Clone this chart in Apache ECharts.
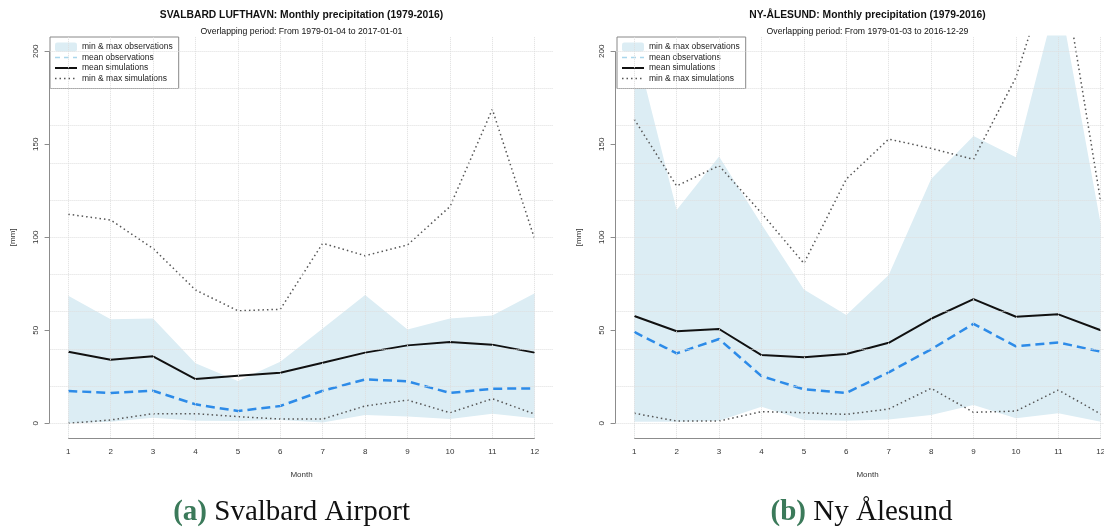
<!DOCTYPE html>
<html>
<head>
<meta charset="utf-8">
<title>Monthly precipitation</title>
<script src="https://cdn.jsdelivr.net/npm/echarts@6/dist/echarts.min.js"></script>
<style>
  html, body { margin: 0; padding: 0; background: #fff; }
  #chart { width: 1104px; height: 530px; }
</style>
</head>
<body>
<div id="chart"></div>
<script>
// months on the x axis, tick labels on the y axis, dotted grid levels
const months = [1, 2, 3, 4, 5, 6, 7, 8, 9, 10, 11, 12];
const yTicks = [0, 50, 100, 150, 200];
const yGrid = [0, 20, 40, 60, 80, 100, 120, 140, 160, 180, 200];

// Svalbard Lufthavn (mm)
const svalObsMin = [0, 0.9, 3, 1.4, 1.2, 1.8, 0.5, 4.5, 3.6, 2.3, 5.2, 2.7];
const svalObsMax = [68.6, 56, 56.4, 32.3, 22.7, 33.1, 51, 69, 50.5, 56.4, 57.9, 69.9];
const svalObsMean = [17.4, 16.3, 17.5, 10.2, 6.6, 9.3, 17.5, 23.6, 22.6, 16.3, 18.6, 18.8];
const svalSimMean = [38.5, 34.2, 36, 23.8, 25.6, 27.2, 32.6, 38, 41.9, 43.7, 42.3, 38];
const svalSimMin = [0, 1.8, 5.2, 5.2, 3.6, 2.3, 2.3, 9.3, 12.5, 5.7, 13.2, 5];
const svalSimMax = [112.4, 109.3, 94, 71.7, 60.5, 61.3, 96.8, 90.1, 95.9, 116.5, 168.8, 98.9];

// Ny-Ålesund (mm)
const nyObsMin = [0.9, 0.9, 1.4, 8.9, 1.8, 1.4, 2.1, 4.5, 9.8, 2.7, 5.4, 0.9];
const nyObsMax = [205, 114.7, 143.4, 107, 72, 58.2, 79.7, 131.3, 154.5, 143, 232, 107];
const nyObsMean = [49.1, 37.6, 45.3, 25.4, 18.3, 16.3, 27.4, 39.8, 53.5, 41.4, 43.5, 38.5];
const nySimMean = [57.7, 49.5, 50.7, 36.7, 35.5, 37.3, 43.3, 56.2, 66.8, 57.3, 58.6, 50];
const nySimMin = [5.4, 1.2, 1.2, 6.3, 5.7, 4.8, 7.7, 18.8, 5.9, 6.6, 17.9, 5];
const nySimMax = [163.4, 127.6, 138.5, 113, 86, 131.3, 152.8, 147.8, 141.9, 186, 258, 119];

const FONT = 'Liberation Sans';
const BAND = '#dcedf4';
const AXIS = '#8c8c8c';
const XMIN = 0.56, XMAX = 12.44, YMIN = -8, YMAX = 208;

function pts(arr) {
    return months.map((m, i) => [m, arr[i]]);
}

// one panel = band + grid + 4 lines
// band: fill under the max in light blue, then paint white under the min
function panelSeries(idx, d) {
    const ax = { xAxisIndex: idx, yAxisIndex: idx };
    const gridLine = { color: '#dedede', type: 'dotted', width: 1 };
    const axisLine = { color: AXIS, type: 'solid', width: 1 };
    return [
        Object.assign({
            name: 'min & max observations', type: 'line', data: pts(d.obsMax),
            symbol: 'none', lineStyle: { opacity: 0 }, areaStyle: { color: BAND, opacity: 1, origin: 'start' },
            silent: true, z: 1
        }, ax),
        Object.assign({
            type: 'line', data: pts(d.obsMin),
            symbol: 'none', lineStyle: { opacity: 0 }, areaStyle: { color: '#fff', opacity: 1, origin: 'start' },
            silent: true, z: 1
        }, ax),
        Object.assign({
            type: 'line', data: pts(d.obsMin), symbol: 'none', lineStyle: { opacity: 0 },
            silent: true, z: 2, clip: false,
            markLine: {
                silent: true, symbol: 'none', label: { show: false }, animation: false,
                lineStyle: gridLine,
                data: yGrid.map(v => ({ yAxis: v })).concat(months.map(m => ({ xAxis: m }))).concat([
                    [{ coord: [XMIN, 0], lineStyle: axisLine }, { coord: [XMIN, 200] }],
                    [{ coord: [1, YMIN], lineStyle: axisLine }, { coord: [12, YMIN] }]
                ])
            }
        }, ax),
        Object.assign({
            name: 'mean observations', type: 'line', data: pts(d.obsMean), symbol: 'none',
            lineStyle: { color: '#2d8be8', width: 2.5, type: [9, 5] }, z: 3
        }, ax),
        Object.assign({
            name: 'min & max simulations', type: 'line', data: pts(d.simMin), symbol: 'none',
            lineStyle: { color: '#555', width: 1.5, type: [1.5, 3] }, z: 3
        }, ax),
        Object.assign({
            name: 'min & max simulations', type: 'line', data: pts(d.simMax), symbol: 'none',
            lineStyle: { color: '#555', width: 1.5, type: [1.5, 3] }, z: 3
        }, ax),
        Object.assign({
            name: 'mean simulations', type: 'line', data: pts(d.simMean), symbol: 'none',
            lineStyle: { color: '#111', width: 2 }, z: 4
        }, ax)
    ];
}

function makeAxes(idx) {
    const x = {
        type: 'value', gridIndex: idx, min: XMIN, max: XMAX,
        splitLine: { show: false }, axisLine: { show: false },
        axisTick: { customValues: months, length: 5, lineStyle: { color: AXIS } },
        axisLabel: { customValues: months, margin: 10, fontSize: 8, color: '#333', fontFamily: FONT },
        name: 'Month', nameLocation: 'middle', nameGap: 33,
        nameTextStyle: { fontSize: 8, color: '#333', fontFamily: FONT }
    };
    const y = {
        type: 'value', gridIndex: idx, min: YMIN, max: YMAX,
        splitLine: { show: false }, axisLine: { show: false },
        axisTick: { customValues: yTicks, length: 5, lineStyle: { color: AXIS } },
        axisLabel: { customValues: yTicks, rotate: 90, margin: 10, fontSize: 8, color: '#333', fontFamily: FONT },
        name: '[mm]', nameLocation: 'middle', nameGap: 33,
        nameTextStyle: { fontSize: 8, color: '#333', fontFamily: FONT }
    };
    return [x, y];
}

function makeLegend(left) {
    const noDot = { opacity: 0 };
    return {
        orient: 'vertical', left: left, top: 37, selectedMode: false,
        backgroundColor: '#fff', borderColor: '#888', borderWidth: 1, borderRadius: 0,
        padding: [5, 6, 5, 4], itemGap: 0.5, itemWidth: 22, itemHeight: 9,
        textStyle: { fontSize: 8.5, color: '#222', fontFamily: FONT, lineHeight: 10 },
        data: [
            { name: 'min & max observations', icon: 'roundRect', itemStyle: { color: BAND } },
            { name: 'mean observations', itemStyle: noDot, lineStyle: { color: '#a9d6ec', width: 1.5, type: [5, 4], opacity: 1 } },
            { name: 'mean simulations', itemStyle: noDot, lineStyle: { color: '#111', width: 2, opacity: 1 } },
            { name: 'min & max simulations', itemStyle: noDot, lineStyle: { color: '#555', width: 1.5, type: [1.5, 3], opacity: 1 } }
        ]
    };
}

function titleItem(text, center, top, size, weight) {
    return {
        text: text, left: center, top: top, textAlign: 'center', padding: 0,
        textStyle: { fontSize: size, fontWeight: weight, color: '#111', fontFamily: FONT }
    };
}
function captionItem(tag, text, center) {
    return {
        text: '{a|' + tag + '} ' + text, left: center, top: 498, textAlign: 'center', padding: 0,
        textStyle: {
            fontSize: 29, fontWeight: 'normal', color: '#111', fontFamily: 'Liberation Serif',
            rich: { a: { fontSize: 29, fontWeight: 'bold', color: '#3b7a5a', fontFamily: 'Liberation Serif' } }
        }
    };
}

const chart = echarts.init(document.getElementById('chart'), null, { renderer: 'canvas' });

const ax0 = makeAxes(0), ax1 = makeAxes(1);
const option = {
    animation: false,
    backgroundColor: '#fff',
    title: [
        titleItem('SVALBARD LUFTHAVN: Monthly precipitation (1979-2016)', 301.5, 10, 10.3, 'bold'),
        titleItem('Overlapping period: From 1979-01-04 to 2017-01-01', 301.5, 27, 8.7, 'normal'),
        titleItem('NY-ÅLESUND: Monthly precipitation (1979-2016)', 867.5, 10, 10.3, 'bold'),
        titleItem('Overlapping period: From 1979-01-03 to 2016-12-29', 867.5, 27, 8.7, 'normal'),
        captionItem('(a)', 'Svalbard Airport', 291.6),
        captionItem('(b)', 'Ny Ålesund', 861.6)
    ],
    legend: [makeLegend(50), makeLegend(617)],
    // the right panel runs past the picture's edge, as in the source figure
    grid: [
        { left: 49.6, top: 36.4, width: 503.8, height: 401.8, outerBoundsMode: 'none' },
        { left: 615.6, top: 36.4, width: 503.8, height: 401.8, outerBoundsMode: 'none' }
    ],
    xAxis: [ax0[0], ax1[0]],
    yAxis: [ax0[1], ax1[1]],
    series: panelSeries(0, {
        obsMin: svalObsMin, obsMax: svalObsMax, obsMean: svalObsMean,
        simMean: svalSimMean, simMin: svalSimMin, simMax: svalSimMax
    }).concat(panelSeries(1, {
        obsMin: nyObsMin, obsMax: nyObsMax, obsMean: nyObsMean,
        simMean: nySimMean, simMin: nySimMin, simMax: nySimMax
    }))
};
chart.setOption(option);
</script>
</body>
</html>
